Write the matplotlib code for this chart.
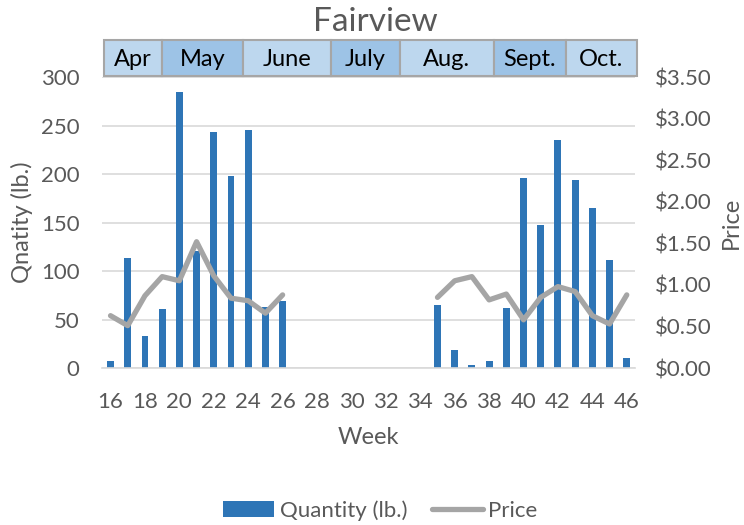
import numpy as np
import matplotlib.pyplot as plt
from matplotlib.patches import Rectangle
import matplotlib.transforms as mtransforms

plt.rcParams['font.family'] = ['Lato', 'DejaVu Sans']

weeks = list(range(16, 47))
quantity = [7, 113, 33, 61, 285, 121, 243, 198, 246, 63, 69,
            np.nan, np.nan, np.nan, np.nan, np.nan, np.nan, np.nan, np.nan,
            65, 19, 3, 7, 62, 196, 148, 235, 194, 165, 111, 10]
price = [0.63, 0.51, 0.87, 1.10, 1.05, 1.52, 1.11, 0.84, 0.81, 0.66, 0.88,
         np.nan, np.nan, np.nan, np.nan, np.nan, np.nan, np.nan, np.nan,
         0.85, 1.05, 1.10, 0.82, 0.89, 0.58, 0.85, 0.98, 0.92, 0.63, 0.53, 0.88]

months = ['Apr', 'May', 'June', 'July', 'Aug.', 'Sept.', 'Oct.']
# month boundaries in week units
month_edges = [15.6, 19.0, 23.7, 28.8, 32.8, 38.3, 42.45, 46.6]

bar_color = '#2E75B6'
line_color = '#A5A5A5'
text_color = '#595959'

fig = plt.figure(figsize=(7.44, 5.25), dpi=100)
ax = fig.add_axes([0.137, 0.299, 0.717, 0.554])
ax2 = ax.twinx()

ax.bar(weeks, quantity, width=0.4, color=bar_color, zorder=2, label='Quantity (lb.)')
ax2.plot(weeks, price, color=line_color, linewidth=3.8, solid_capstyle='round', label='Price')

ax.set_xlim(15.5, 46.5)
ax.set_ylim(0, 300)
ax2.set_ylim(0, 3.5)
ax.set_yticks(range(0, 301, 50))
ax2.set_yticks(np.arange(0, 3.51, 0.5))
ax2.set_yticklabels([f'${v:.2f}' for v in np.arange(0, 3.51, 0.5)])
ax.set_xticks(range(16, 47, 2))

ax.grid(axis='y', color='#D9D9D9', linewidth=1.2, zorder=0)
ax.set_axisbelow(True)
for a in (ax, ax2):
    for s in a.spines.values():
        s.set_visible(False)
    a.tick_params(length=0, labelsize=16, colors=text_color)
ax.tick_params(axis='x', pad=17)
ax.tick_params(axis='y', pad=16)
ax2.tick_params(axis='y', pad=14)
ax.spines['bottom'].set_visible(True)
ax.spines['bottom'].set_color('#D9D9D9')
ax.spines['bottom'].set_linewidth(1.2)

ax.set_xlabel('Week', fontsize=17, color=text_color, labelpad=11)
ax.set_ylabel('Qnatity (lb.)', fontsize=17, color=text_color, labelpad=6)
ax2.set_ylabel('Price', fontsize=17, color=text_color, labelpad=7)

# month band above the plot
trans = mtransforms.blended_transform_factory(ax.transData, ax.transAxes)
for i, m in enumerate(months):
    x0, x1 = month_edges[i], month_edges[i + 1]
    fc = '#9DC3E6' if i % 2 == 1 else '#BDD7EE'
    ax.add_patch(Rectangle((x0, 1.003), x1 - x0, 0.124, transform=trans,
                           facecolor=fc, edgecolor='#A6A6A6', linewidth=1.5,
                           clip_on=False, zorder=3))
    ax.text((x0 + x1) / 2, 1.062, m, transform=trans, ha='center', va='center',
            fontsize=17, color='black', zorder=4)

fig.text(0.505, 0.958, 'Fairview', ha='center', va='center', fontsize=24, color=text_color)

h1, l1 = ax.get_legend_handles_labels()
h2, l2 = ax2.get_legend_handles_labels()
fig.legend(h1 + h2, l1 + l2, loc='center', bbox_to_anchor=(0.511, 0.028), ncol=2,
           frameon=False, fontsize=16, handlelength=2.3, handleheight=0.7,
           columnspacing=1.1, handletextpad=0.25, labelcolor=text_color)

fig.savefig('out.png', dpi=100)
